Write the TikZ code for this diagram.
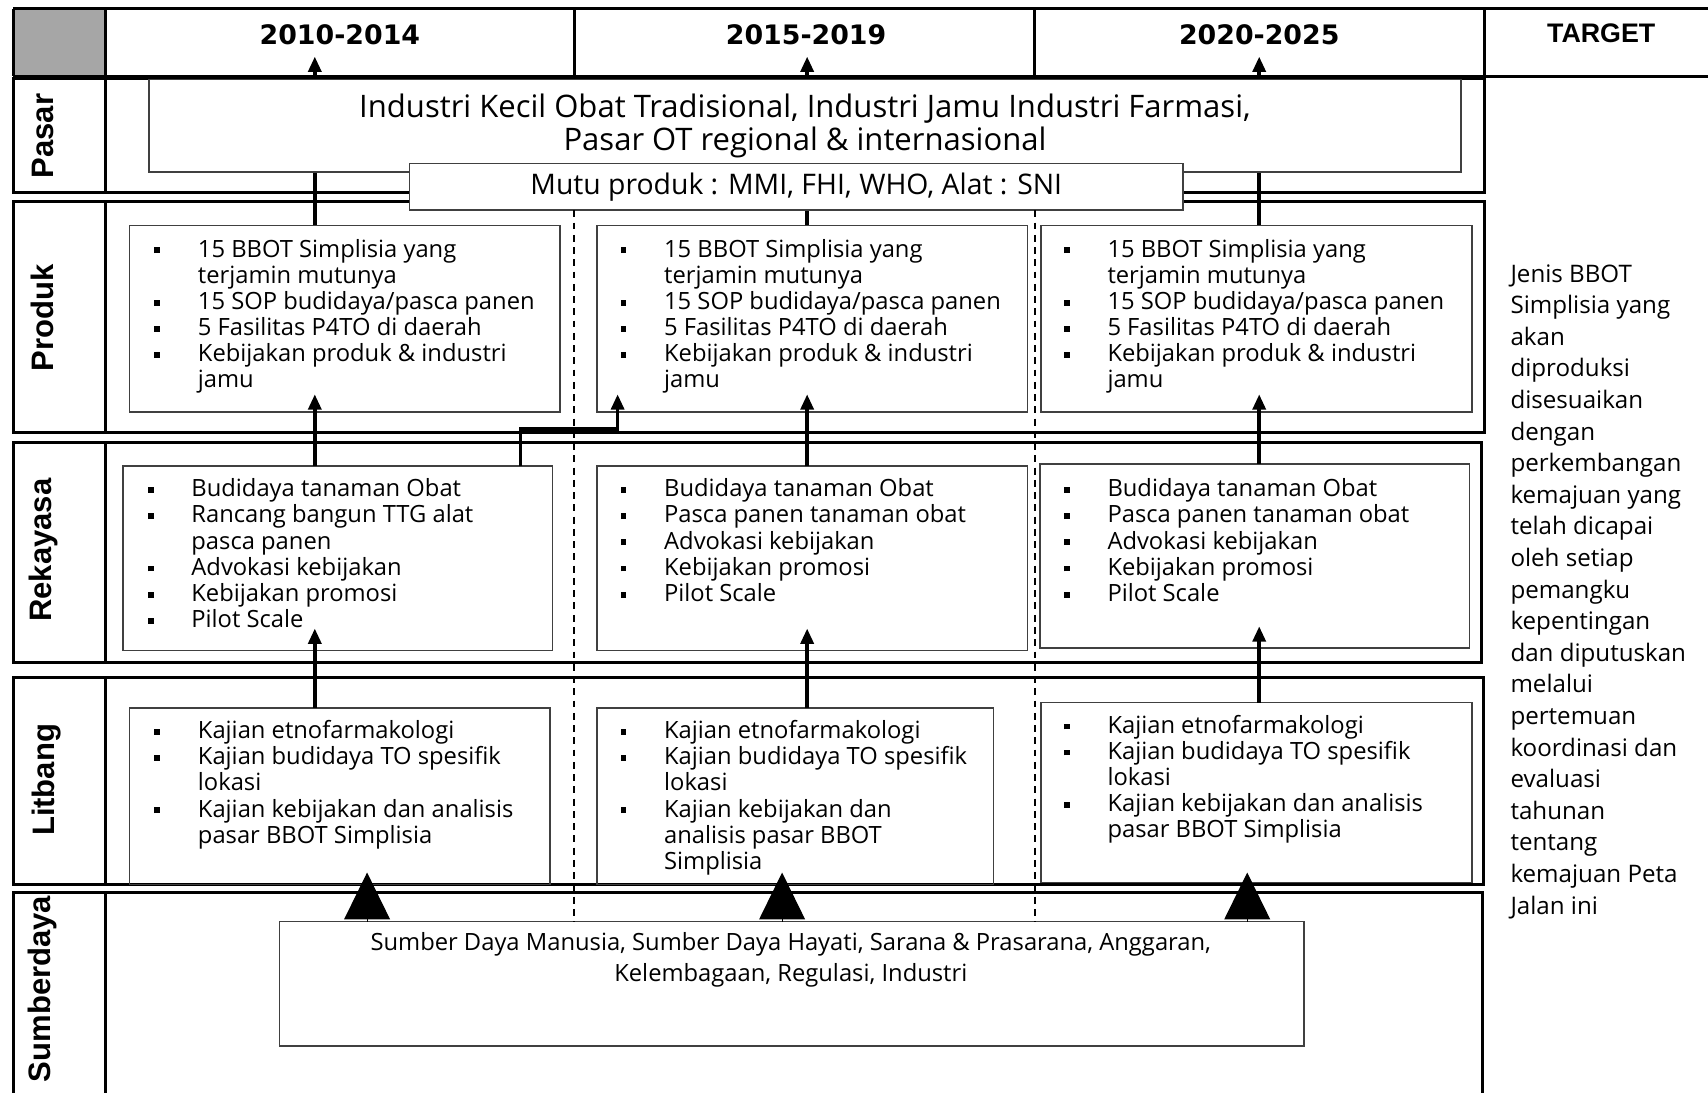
\documentclass[tikz,border=0pt]{standalone}
\usepackage{fontspec}
\setmainfont{Open Sans}
\newfontfamily\yearfont{DejaVu Sans}
\newfontfamily\arialfont{Liberation Sans}
\usetikzlibrary{arrows.meta}

\newcommand{\sq}{\rule[1pt]{1.5pt}{1.5pt}}
\newcommand{\itemtab}[1]{\begin{tabular}[t]{@{}p{0.4cm}@{}l@{}}#1\end{tabular}}

\tikzset{
  rowline/.style = {line width=0.8pt},
  itembox/.style = {draw=black!75, line width=0.4pt, inner sep=0pt, outer sep=0pt},
  itemlist/.style = {anchor=base west, inner sep=0pt, font=\fontsize{6.2}{6.83}\selectfont},
  sidelbl/.style = {rotate=90, inner sep=0pt, font=\arialfont\bfseries\fontsize{8.1}{9}\selectfont},
  yearlbl/.style = {inner sep=0pt, font=\yearfont\bfseries\fontsize{7}{8}\selectfont},
  uparrow/.style = {line width=0.9pt, -{Triangle[width=3.4pt,length=4pt]}},
  bigtip/.style = {line width=0.3pt, -{Triangle[width=0.42cm,length=0.43cm]}},
}

\begin{document}
\begin{tikzpicture}[x=0.01cm, y=-0.01cm]
  \useasboundingbox (0,0) rectangle (1568,1003);

  % header row
  \fill[black!35] (12,8) rectangle (97,70);
  \draw[rowline] (12,8) -- (1568,8);
  \draw[rowline] (12,70) -- (1568,70);
  \foreach \x in {12,97,527,950,1363}
    \draw[rowline] (\x,8) -- (\x,70);
  \node[yearlbl] (h1) at (312,32) {2010-2014};
  \node[yearlbl] (h2) at (740,32) {2015-2019};
  \node[yearlbl] (h3) at (1156,32) {2020-2025};
  \node[inner sep=0pt, font=\arialfont\bfseries\fontsize{7}{8}\selectfont] (ht) at (1470,31) {TARGET};

  % row frames
  \draw[rowline] (12,72) rectangle (1363,177);
  \draw[rowline] (97,72) -- (97,177);
  \draw[rowline] (12,185) rectangle (1363,397);
  \draw[rowline] (97,185) -- (97,397);
  \draw[rowline] (12,406) rectangle (1360,608);
  \draw[rowline] (97,406) -- (97,608);
  \draw[rowline] (12,622) rectangle (1362,812);
  \draw[rowline] (97,622) -- (97,812);
  \draw[rowline] (12,1003) -- (12,819) -- (1361,819) -- (1361,1003);
  \draw[rowline] (97,819) -- (97,1003);

  % side labels
  \node[sidelbl] (lpasar) at (39,125) {Pasar};
  \node[sidelbl] (lproduk) at (39,292) {Produk};
  \node[sidelbl] (lrekayasa) at (40,505) {Rekayasa};
  \node[sidelbl] (llitbang) at (43,716) {Litbang};
  \node[sidelbl] (lsumber) at (39,908) {Sumberdaya};

  % column guides
  \coordinate (d1) at (527,0);
  \coordinate (d2) at (950,0);
  \coordinate (c1) at (289,52);
  \coordinate (c2) at (741,52);
  \coordinate (c3) at (1156,52);

  % Produk
  \node[itembox, minimum width=3.95cm, minimum height=1.71cm] (p1) at (316.5,292.5) {};
  \node[itembox, minimum width=3.95cm, minimum height=1.71cm] (p2) at (745.5,292.5) {};
  \node[itembox, minimum width=3.95cm, minimum height=1.71cm] (p3) at (1153.5,292.5) {};
  \node[itemlist] (p1t) at (141,236) {\itemtab{%
    \sq & 15 BBOT Simplisia yang\\ & terjamin mutunya\\
    \sq & 15 SOP budidaya/pasca panen\\
    \sq & 5 Fasilitas P4TO di daerah\\
    \sq & Kebijakan produk \& industri\\ & jamu}};
  \node[itemlist] (p2t) at (569,236) {\itemtab{%
    \sq & 15 BBOT Simplisia yang\\ & terjamin mutunya\\
    \sq & 15 SOP budidaya/pasca panen\\
    \sq & 5 Fasilitas P4TO di daerah\\
    \sq & Kebijakan produk \& industri\\ & jamu}};
  \node[itemlist] (p3t) at (976,236) {\itemtab{%
    \sq & 15 BBOT Simplisia yang\\ & terjamin mutunya\\
    \sq & 15 SOP budidaya/pasca panen\\
    \sq & 5 Fasilitas P4TO di daerah\\
    \sq & Kebijakan produk \& industri\\ & jamu}};

  % top arrows (run under the Pasar boxes)
  \draw[uparrow] (p1.north -| c1) -- (c1);
  \draw[uparrow] (p2.north -| c2) -- (c2);
  \draw[uparrow] (p3.north -| c3) -- (c3);

  % Pasar
  \node[itembox, fill=white, minimum width=12.04cm, minimum height=0.85cm, align=center,
        font=\fontsize{8.1}{8.8}\selectfont] (pasar) at (739,115.5)
        {Industri Kecil Obat Tradisional, Industri Jamu Industri Farmasi,\\Pasar OT regional \& internasional};
  \node[itembox, fill=white, minimum width=7.1cm, minimum height=0.43cm,
        font=\fontsize{7.4}{8.25}\selectfont] (mutu) at (731,171.5)
        {Mutu produk : MMI, FHI, WHO, Alat : SNI};

  % Rekayasa
  \node[itembox, minimum width=3.94cm, minimum height=1.69cm] (r1) at (310,512.5) {};
  \node[itembox, minimum width=3.95cm, minimum height=1.69cm] (r2) at (745.5,512.5) {};
  \node[itembox, minimum width=3.94cm, minimum height=1.69cm] (r3) at (1152,510.5) {};
  \node[itemlist] (r1t) at (135,456) {\itemtab{%
    \sq & Budidaya tanaman Obat\\
    \sq & Rancang bangun TTG alat\\ & pasca panen\\
    \sq & Advokasi kebijakan\\
    \sq & Kebijakan promosi\\
    \sq & Pilot Scale}};
  \node[itemlist] (r2t) at (569,456) {\itemtab{%
    \sq & Budidaya tanaman Obat\\
    \sq & Pasca panen tanaman obat\\
    \sq & Advokasi kebijakan\\
    \sq & Kebijakan promosi\\
    \sq & Pilot Scale}};
  \node[itemlist] (r3t) at (976,456) {\itemtab{%
    \sq & Budidaya tanaman Obat\\
    \sq & Pasca panen tanaman obat\\
    \sq & Advokasi kebijakan\\
    \sq & Kebijakan promosi\\
    \sq & Pilot Scale}};

  % Litbang
  \node[itembox, minimum width=3.86cm, minimum height=1.62cm] (l1) at (312,731) {};
  \node[itembox, minimum width=3.64cm, minimum height=1.62cm] (l2) at (730,731) {};
  \node[itembox, minimum width=3.95cm, minimum height=1.65cm] (l3) at (1153.5,727.5) {};
  \node[itemlist] (l1t) at (141,678) {\itemtab{%
    \sq & Kajian etnofarmakologi\\
    \sq & Kajian budidaya TO spesifik\\ & lokasi\\
    \sq & Kajian kebijakan dan analisis\\ & pasar BBOT Simplisia}};
  \node[itemlist] (l2t) at (569,678) {\itemtab{%
    \sq & Kajian etnofarmakologi\\
    \sq & Kajian budidaya TO spesifik\\ & lokasi\\
    \sq & Kajian kebijakan dan\\ & analisis pasar BBOT\\ & Simplisia}};
  \node[itemlist] (l3t) at (976,673) {\itemtab{%
    \sq & Kajian etnofarmakologi\\
    \sq & Kajian budidaya TO spesifik\\ & lokasi\\
    \sq & Kajian kebijakan dan analisis\\ & pasar BBOT Simplisia}};

  % Sumberdaya
  \node[itembox, minimum width=9.4cm, minimum height=1.14cm] (sumber) at (727,903) {};
  \node[align=center, inner sep=0pt, font=\fontsize{6.2}{8.25}\selectfont] (sumbert) at (726,881)
    {Sumber Daya Manusia, Sumber Daya Hayati, Sarana \& Prasarana, Anggaran,\\Kelembagaan, Regulasi, Industri};

  % dashed period borders
  \draw[dashed, line width=0.5pt, dash pattern=on 1.8pt off 1.4pt] (mutu.south -| d1) -- (sumber.north -| d1);
  \draw[dashed, line width=0.5pt, dash pattern=on 1.8pt off 1.4pt] (mutu.south -| d2) -- (sumber.north -| d2);

  % Rekayasa -> Produk
  \draw[uparrow] (r1.north -| c1) -- ([yshift=0.16cm]p1.south -| c1);
  \draw[uparrow] (r2.north -| c2) -- ([yshift=0.16cm]p2.south -| c2);
  \draw[uparrow] (r3.north -| c3) -- ([yshift=0.16cm]p3.south -| c3);
  \coordinate (e1) at (478,394);
  \coordinate (e2) at (567,394);
  \draw[uparrow] (r1.north -| e1) -- (e1) -- (e2) -- ([yshift=0.16cm]p2.south -| e2);

  % Litbang -> Rekayasa
  \draw[uparrow] (l1.north -| c1) -- ([yshift=0.2cm]r1.south -| c1);
  \draw[uparrow] (l2.north -| c2) -- ([yshift=0.2cm]r2.south -| c2);
  \draw[uparrow] (l3.north -| c3) -- ([yshift=0.2cm]r3.south -| c3);

  % Sumberdaya -> Litbang
  \coordinate (b1) at (337,801);
  \coordinate (b2) at (718,801);
  \coordinate (b3) at (1145,801);
  \draw[bigtip] (sumber.north -| b1) -- (b1);
  \draw[bigtip] (sumber.north -| b2) -- (b2);
  \draw[bigtip] (sumber.north -| b3) -- (b3);

  % target
  \node[anchor=base west, inner sep=0pt, font=\fontsize{6.3}{8.25}\selectfont] (target) at (1386,259)
    {\begin{tabular}[t]{@{}l@{}}
      Jenis BBOT\\ Simplisia yang\\ akan\\ diproduksi\\ disesuaikan\\ dengan\\ perkembangan\\
      kemajuan yang\\ telah dicapai\\ oleh setiap\\ pemangku\\ kepentingan\\ dan diputuskan\\
      melalui\\ pertemuan\\ koordinasi dan\\ evaluasi\\ tahunan\\ tentang\\ kemajuan Peta\\ Jalan ini
    \end{tabular}};
\end{tikzpicture}
\end{document}
